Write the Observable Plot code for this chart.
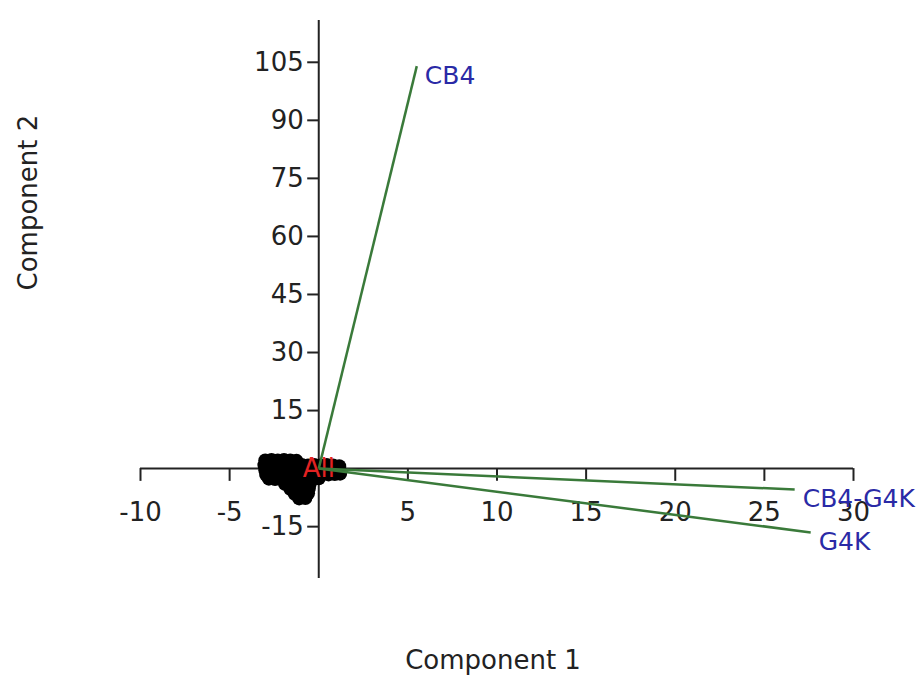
<!DOCTYPE html>
<html>
<head>
<meta charset="utf-8">
<script src="https://cdn.jsdelivr.net/npm/d3@7"></script>
<script src="https://cdn.jsdelivr.net/npm/@observablehq/plot@0.6"></script>
<style>
  html, body { margin: 0; padding: 0; background: #fff; }
</style>
</head>
<body>
<div id="chart"></div>
<script>
// Tick values
const xTicks = [-10, -5, 5, 10, 15, 20, 25, 30];
const yTicks = [-15, 15, 30, 45, 60, 75, 90, 105];

// Loading vectors (biplot arrows)
const loadingNames = ["CB4", "CB4-G4K", "G4K"];
const loadingX = [5.5, 26.7, 27.6];
const loadingY = [104, -5.4, -16.5];

// Score points (the black cluster)
const scoreX = [
  -3.0, -2.65, -2.3, -1.95, -1.6, -1.25,
  -3.05, -2.7, -2.35, -2.0, -1.65, -1.3, -0.95, -0.6, -0.25, 0.1, 0.45, 0.8, 1.15,
  -3.0, -2.65, -2.3, -1.95, -1.6, -1.25, -0.9, -0.55, -0.2, 0.15, 0.5, 0.85, 1.2,
  -2.95, -2.6, -2.25, -1.9, -1.55, -1.2, -0.85, -0.5, -0.15, 0.2, 0.55, 0.9, 1.2,
  -2.8, -2.45, -2.1, -1.75, -1.4, -1.05, -0.7, -0.35, 0.0,
  -1.9, -1.55, -1.2, -0.85, -0.5,
  -1.6, -1.25, -0.9, -0.55,
  -1.35, -1.0, -0.6,
  -1.1, -0.75
];
const scoreY = [
  2.1, 2.2, 2.1, 2.2, 2.1, 2.0,
  0.9, 1.0, 0.9, 1.0, 0.9, 0.8, 0.9, 0.8, 0.9, 0.8, 0.9, 0.8, 0.6,
  -0.4, -0.3, -0.4, -0.5, -0.4, -0.3, -0.4, -0.5, -0.4, -0.3, -0.4, -0.5, -0.6,
  -1.6, -1.7, -1.6, -1.5, -1.6, -1.7, -1.6, -1.5, -1.6, -1.4, -1.5, -1.4, -1.3,
  -2.6, -2.7, -2.6, -2.8, -2.7, -2.6, -2.8, -2.7, -2.5,
  -3.9, -4.0, -3.9, -3.8, -3.9,
  -5.2, -5.3, -5.1, -5.0,
  -6.5, -6.6, -6.4,
  -7.7, -7.6
];
const groupLabel = ["All"];

const loadings = loadingNames.map((name, i) => ({name, x: loadingX[i], y: loadingY[i]}));
const scores = scoreX.map((x, i) => ({x, y: scoreY[i]}));

const font = "DejaVu Sans";
const axisColor = "#222";
const green = "#3a7a3a";
const blue = "#2a2aa6";
const red = "#e32222";
const textColor = "#222";

const chart = Plot.plot({
  width: 919,
  height: 682,
  marginLeft: 140,
  marginRight: 66,
  marginTop: 20,
  marginBottom: 104,
  x: {domain: [-10, 30], axis: null},
  y: {domain: [-28.4, 115.8], axis: null},
  style: {fontFamily: font, fontSize: "26px", background: "#fff"},
  marks: [
    // axes through origin
    Plot.ruleX([0], {stroke: axisColor, strokeWidth: 2}),
    Plot.ruleY([0], {x1: -10, x2: 30, stroke: axisColor, strokeWidth: 2}),
    // tick marks
    Plot.ruleX(xTicks, {x: d => d, y1: 0, y2: -3.3, stroke: axisColor, strokeWidth: 2}),
    Plot.ruleY(yTicks, {y: d => d, x1: -0.62, x2: 0, stroke: axisColor, strokeWidth: 2}),
    // tick labels
    Plot.text(xTicks, {x: d => d, y: 0, dy: 44, text: d => String(d), fill: textColor, fontSize: 26}),
    Plot.text(yTicks, {x: 0, y: d => d, dx: -15, textAnchor: "end", text: d => String(d), fill: textColor, fontSize: 26}),
    // axis titles
    Plot.text(["Component 1"], {frameAnchor: "bottom", dx: -4, dy: 90, fill: textColor, fontSize: 26}),
    Plot.text(["Component 2"], {frameAnchor: "left", dx: -112, dy: -9, rotate: -90, fill: textColor, fontSize: 26}),
    // scores
    Plot.dot(scores, {x: "x", y: "y", r: 7, fill: "#000", stroke: "none"}),
    Plot.text(groupLabel, {x: 0, y: 0, text: d => d, fill: red, fontSize: 26}),
    // loading vectors
    Plot.link(loadings, {x1: 0, y1: 0, x2: "x", y2: "y", stroke: green, strokeWidth: 2.5}),
    Plot.text(loadings, {x: "x", y: "y", text: "name", dx: 8, dy: 10, textAnchor: "start", fill: blue, fontSize: 25})
  ]
});

document.getElementById("chart").appendChild(chart);
</script>
</body>
</html>
